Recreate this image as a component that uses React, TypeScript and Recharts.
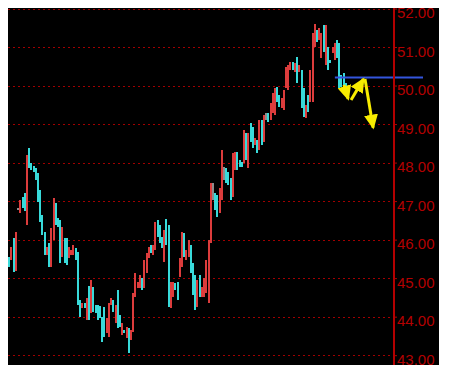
import { ComposedChart, Bar, XAxis, YAxis, CartesianGrid, ReferenceLine } from 'recharts';

// bar highs / lows left to right
const HIGHS = [
    45.57, 45.83, 46.06, 46.22, 46.83, 47.04, 47.13, 47.22, 48.21, 48.38,
    48.00, 47.92, 47.87, 47.74, 47.30, 46.65, 46.22, 45.83, 45.93, 46.31,
    47.09, 46.96, 46.57, 46.52, 46.35, 46.06, 46.06, 45.83, 45.74, 45.87,
    45.80, 45.70, 44.45, 44.37, 44.37, 44.50, 44.81, 44.97, 44.78, 44.32,
    44.32, 44.29, 44.01, 44.27, 43.98, 44.37, 44.50, 44.45, 44.32, 44.71,
    44.06, 43.85, 43.67, 43.75, 43.72, 43.67, 44.63, 45.15, 44.92, 45.09,
    45.02, 45.48, 45.67, 45.83, 45.87, 45.87, 46.48, 46.52, 46.39, 46.09,
    46.26, 46.55, 46.39, 44.92, 44.92, 44.89, 44.92, 45.54, 46.22, 46.19,
    45.74, 46.00, 45.87, 45.41, 45.09, 44.97, 45.09, 44.79, 45.02, 45.48,
    46.00, 47.48, 47.48, 47.22, 47.17, 47.35, 48.34, 47.91, 47.87, 47.78,
    47.61, 48.26, 48.30, 48.30, 48.08, 48.04, 48.86, 48.78, 48.78, 49.04,
    48.94, 48.64, 48.60, 49.12, 49.12, 49.25, 49.30, 49.30, 49.56, 49.82,
    49.95, 49.98, 49.77, 49.69, 49.90, 50.50, 50.55, 50.63, 50.63, 50.60,
    50.75, 50.55, 50.42, 49.95, 49.51, 49.77, 50.42, 51.38, 51.60, 51.45,
    51.50, 51.37, 51.58, 51.58, 51.02, 50.68, 51.02, 51.11, 51.20, 51.11,
    50.29, 50.33, 50.08,
];

const LOWS = [
    45.31, 45.48, 45.18, 45.20, 46.78, 46.70, 46.83, 46.76, 46.39, 47.86,
    47.82, 47.77, 47.56, 47.00, 46.47, 46.13, 45.61, 45.61, 45.31, 45.31,
    46.00, 46.39, 46.34, 45.41, 45.57, 45.41, 45.35, 45.54, 45.61, 45.61,
    45.48, 44.32, 44.01, 44.24, 44.24, 43.93, 43.93, 44.11, 44.14, 44.11,
    43.93, 43.98, 43.36, 43.49, 43.59, 43.49, 44.32, 44.14, 43.85, 43.72,
    43.74, 43.54, 43.59, 43.46, 43.07, 43.41, 43.62, 44.53, 44.76, 44.76,
    44.71, 44.76, 45.15, 45.54, 45.67, 45.61, 45.74, 46.09, 45.93, 45.80,
    45.44, 45.87, 44.27, 44.23, 44.53, 44.71, 44.45, 45.05, 45.31, 45.57,
    45.48, 45.57, 45.14, 44.58, 44.19, 44.27, 44.53, 44.53, 44.53, 44.63,
    44.36, 45.92, 47.04, 46.78, 46.61, 46.70, 47.04, 47.56, 47.48, 47.43,
    47.04, 47.13, 47.82, 47.82, 47.91, 47.91, 47.99, 48.08, 47.87, 48.56,
    48.38, 48.47, 48.26, 48.34, 48.47, 48.56, 49.12, 49.07, 49.12, 49.30,
    49.25, 49.59, 49.46, 49.43, 49.38, 49.95, 49.90, 50.42, 50.42, 50.36,
    50.08, 50.36, 49.42, 49.20, 49.17, 49.33, 49.59, 49.59, 51.02, 51.15,
    51.20, 50.72, 50.89, 50.55, 50.42, 50.60, 50.85, 50.68, 50.72, 49.94,
    49.98, 49.81, 49.85,
];

// r = up bar (red), c = down bar (cyan), d = doji (grey)
const MOVES =
    'crcrdrccrc' + 'cccccccrcr' + 'rcccrccrrr' + 'cccrcrcrcc' + 'ccccrrrcrc' +
    'crcrcrrrrr' + 'crrrcrrccc' + 'rccrrccrrc' + 'rrcccrcrrr' + 'rrdccrrdcc' +
    'crrcccrcrc' + 'crcrcrdcrr' + 'rccrrrrrcr' + 'crccrcrrrc' + 'rrcrccrrcc' + 'ccc';

const PRICE_TICKS = [43, 44, 45, 46, 47, 48, 49, 50, 51, 52];

// blue level line and the yellow projection arrows (bar index, price)
const LEVEL_PRICE = 50.22;
const LEVEL_FROM = 147.0;
const LEVEL_TO = 186.8;
const ARROWS = [
    [{ x: 151.1, y: 50.03 }, { x: 153.0, y: 49.67 }],
    [{ x: 154.3, y: 49.64 }, { x: 159.9, y: 50.18 }],
    [{ x: 160.6, y: 50.18 }, { x: 164.3, y: 48.92 }],
];

const COLORS: Record<string, string> = { r: '#dc3c3c', c: '#38dada', d: '#8c8c8c' };
const AXIS_RED = '#b30000';

const candles = HIGHS.map((high, i) => {
    const low = LOWS[i];
    const move = MOVES[i];
    return {
        idx: i,
        high,
        low,
        open: move === 'r' ? low : high,
        close: move === 'r' ? high : low,
        move,
        range: [low, high],
    };
});

function Candle(props: any) {
    const { x, y, width, height, payload } = props;
    if (!payload || height == null) return null;
    const color = COLORS[payload.move];
    const span = payload.high - payload.low || 1;
    const k = height / span;
    const top = y + (payload.high - Math.max(payload.open, payload.close)) * k;
    const bodyH = Math.max(Math.abs(payload.open - payload.close) * k, 1.5);
    const cx = x + width / 2;
    return (
        <g shapeRendering="crispEdges">
            <line x1={cx} x2={cx} y1={y} y2={y + Math.max(height, 1.5)} stroke={color} />
            <rect x={x} y={top} width={width} height={bodyH} fill={color} />
        </g>
    );
}

function PriceTick(props: any) {
    const { x, y, payload } = props;
    return (
        <text x={x} y={y + 9.3} fill={AXIS_RED} fontSize={15} textAnchor="start">
            {Number(payload.value).toFixed(2)}
        </text>
    );
}

function Arrow(props: any) {
    const { x1, y1, x2, y2 } = props;
    return <line x1={x1} y1={y1} x2={x2} y2={y2} stroke="#f8ec00" strokeWidth={3} markerEnd="url(#yellowHead)" />;
}

export default function App() {
    return (
        <div style={{ width: 431, height: 359, background: '#000', marginTop: -2, fontFamily: '"Liberation Sans", Arial, sans-serif' }}>
            <ComposedChart width={431} height={359} data={candles} margin={{ top: 0, right: 0, bottom: 0, left: 0 }}>
                <defs>
                    <marker id="yellowHead" markerUnits="userSpaceOnUse" markerWidth={15} markerHeight={14} refX={13} refY={7} orient="auto">
                        <path d="M0,0 L15,7 L0,14 z" fill="#f8ec00" />
                    </marker>
                </defs>
                <CartesianGrid vertical={false} stroke="#a00000" strokeDasharray="1.5 3.5" shapeRendering="crispEdges" />
                <XAxis dataKey="idx" type="number" domain={[-0.6, 173.7]} allowDataOverflow hide />
                <YAxis
                    orientation="right"
                    width={45}
                    domain={[42.758, 52.078]}
                    allowDataOverflow
                    ticks={PRICE_TICKS}
                    interval={0}
                    axisLine={{ stroke: AXIS_RED, strokeWidth: 2 }}
                    tickLine={{ stroke: AXIS_RED }}
                    tickSize={3}
                    tickMargin={0}
                    tick={<PriceTick />}
                />
                <Bar dataKey="range" barSize={2} shape={<Candle />} isAnimationActive={false} />
                <ReferenceLine
                    segment={[{ x: LEVEL_FROM, y: LEVEL_PRICE }, { x: LEVEL_TO, y: LEVEL_PRICE }]}
                    stroke="#3355dd"
                    strokeWidth={2}
                    ifOverflow="visible"
                />
                {ARROWS.map((seg, i) => (
                    <ReferenceLine key={i} segment={seg} ifOverflow="visible" shape={<Arrow />} />
                ))}
            </ComposedChart>
        </div>
    );
}
